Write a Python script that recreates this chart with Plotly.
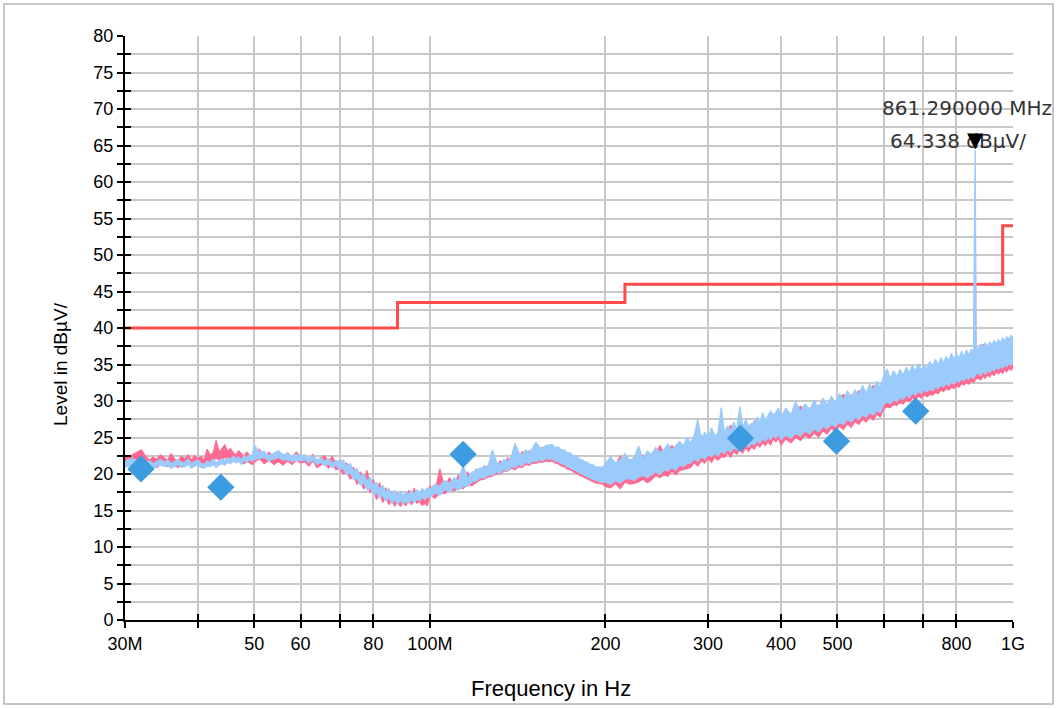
import math
import plotly.graph_objects as go

# ---------------- data ----------------
freq_mhz = [
    30.0, 30.5, 31.0, 31.5, 32.0, 32.5, 33.0, 33.5, 34.0, 34.5,
    35.0, 35.5, 36.0, 36.5, 37.0, 37.5, 38.0, 38.5, 39.0, 39.5,
    40.0, 40.5, 41.0, 41.5, 42.0, 42.5, 43.0, 43.5, 44.0, 44.5,
    45.0, 45.5, 46.0, 46.5, 47.0, 47.5, 48.0, 48.5, 49.0, 49.5,
    50, 51, 52, 53, 54, 55, 56, 57, 58, 59,
    60, 61, 62, 63, 64, 65, 66, 67, 68, 69,
    70, 71, 72, 73, 74, 75, 76, 77, 78, 79,
    80, 81, 82, 83, 84, 85, 86, 87, 88, 89,
    90, 91, 92, 93, 94, 95, 96, 97, 98, 99,
    100, 102, 104, 106, 108, 110, 112, 114, 116, 118,
    120, 122, 124, 126, 128, 130, 132, 134, 136, 138,
    140, 142, 144, 146, 148, 150, 152, 154, 156, 158,
    160, 162, 164, 166, 168, 170, 172, 174, 176, 178,
    180, 182, 184, 186, 188, 190, 192, 194, 196, 198,
    200, 204, 208, 212, 216, 220, 224, 228, 232, 236,
    240, 244, 248, 252, 256, 260, 264, 268, 272, 276,
    280, 284, 288, 292, 296, 300, 304, 308, 312, 316,
    320, 324, 328, 332, 336, 340, 344, 348, 352, 356,
    360, 364, 368, 372, 376, 380, 384, 388, 392, 396,
    400, 408, 416, 424, 432, 440, 448, 456, 464, 472,
    480, 488, 496, 504, 512, 520, 528, 536, 544, 552,
    560, 568, 576, 584, 592, 600, 608, 616, 624, 632,
    640, 648, 656, 664, 672, 680, 688, 696, 704, 712,
    720, 728, 736, 744, 752, 760, 768, 776, 784, 792,
    800, 808, 816, 824, 832, 840, 848, 856, 861.29, 864,
    872, 880, 888, 896, 904, 912, 920, 928, 936, 944,
    952, 960, 968, 976, 984, 992, 1000,
]

# trace 1 (light blue): upper / lower envelope of the noisy sweep, dBµV
blue_hi = [
    21.7, 22.0, 22.1, 21.7, 22.0, 21.5, 21.8, 21.4, 21.7, 22.0,
    21.6, 21.9, 21.4, 21.7, 22.0, 21.5, 21.6, 22.0, 21.4, 21.7,
    21.9, 21.4, 21.3, 21.7, 21.6, 22.0, 21.5, 21.8, 22.1, 21.8,
    22.2, 22.0, 22.4, 22.1, 22.3, 21.9, 22.5, 22.2, 22.6, 22.3,
    23.9, 23.0, 23.1, 22.5, 22.9, 23.2, 22.6, 22.8, 22.4, 22.7,
    22.4, 22.6, 22.1, 22.5, 21.9, 22.2, 21.7, 22.1, 21.5, 21.8,
    21.7, 21.9, 21.1, 21.4, 20.4, 20.7, 19.7, 20.0, 19.0, 19.5,
    18.4, 18.8, 17.9, 18.4, 17.5, 18.0, 17.2, 17.7, 17.0, 17.6,
    17.0, 17.5, 17.1, 17.7, 17.2, 17.8, 17.4, 18.0, 17.6, 18.1,
    17.9, 18.6, 18.3, 19.1, 18.7, 19.5, 19.0, 21.2, 19.4, 20.2,
    20.5, 20.8, 20.9, 21.2, 23.3, 21.6, 21.3, 22.0, 21.7, 22.4,
    24.2, 22.9, 22.6, 23.3, 22.8, 23.6, 24.3, 23.7, 23.4, 23.9,
    23.9, 24.0, 23.6, 23.7, 23.3, 23.3, 22.9, 22.9, 22.5, 22.5,
    22.1, 22.0, 21.7, 21.6, 21.3, 21.3, 21.0, 21.0, 20.9, 20.9,
    21.4, 22.3, 21.5, 21.9, 22.8, 21.8, 22.2, 23.8, 22.0, 23.1,
    22.7, 23.6, 22.9, 23.3, 24.1, 23.2, 23.9, 24.4, 23.8, 25.0,
    24.2, 25.3, 27.4, 24.8, 25.7, 24.9, 26.3, 25.2, 25.6, 29.1,
    25.6, 26.6, 25.8, 27.1, 26.0, 29.2, 26.3, 27.4, 26.5, 26.9,
    27.0, 27.8, 26.9, 28.4, 27.3, 27.9, 28.6, 28.0, 28.4, 29.0,
    27.8, 29.0, 28.1, 29.9, 28.5, 29.6, 28.8, 30.1, 29.0, 30.4,
    29.4, 30.6, 29.8, 31.0, 30.1, 31.4, 30.4, 31.5, 30.8, 32.1,
    31.1, 32.3, 31.4, 32.7, 31.8, 33.4, 34.4, 33.0, 34.1, 33.3,
    34.3, 33.5, 34.6, 33.8, 34.9, 34.0, 35.1, 34.2, 35.0, 34.4,
    35.4, 34.7, 35.7, 34.9, 35.9, 35.2, 36.1, 35.4, 36.5, 35.6,
    36.5, 35.8, 36.8, 36.0, 37.0, 36.2, 37.1, 36.5, 64.338, 37.5,
    37.0, 37.8, 37.2, 38.0, 37.4, 38.1, 37.6, 38.3, 37.8, 38.4,
    38.0, 38.6, 38.2, 38.8, 38.4, 39.0, 38.6,
]
blue_lo = [
    20.9, 21.2, 21.4, 21.0, 21.3, 20.9, 21.1, 20.8, 21.0, 21.3,
    21.0, 21.2, 20.8, 21.1, 21.3, 20.9, 21.0, 21.3, 20.8, 21.1,
    21.2, 20.9, 20.8, 21.1, 21.0, 21.3, 20.9, 21.2, 21.4, 21.2,
    21.6, 21.4, 21.8, 21.5, 21.7, 21.3, 21.9, 21.6, 22.0, 21.7,
    22.0, 22.1, 22.3, 21.8, 22.1, 22.3, 21.9, 22.0, 21.7, 21.9,
    21.8, 22.0, 21.5, 21.9, 21.3, 21.6, 21.1, 21.4, 20.9, 21.2,
    20.6, 20.8, 19.9, 20.2, 19.2, 19.4, 18.5, 18.8, 17.8, 18.2,
    17.1, 17.5, 16.7, 17.1, 16.3, 16.8, 16.0, 16.5, 15.9, 16.4,
    15.9, 16.3, 16.0, 16.5, 16.1, 16.6, 16.3, 16.8, 16.5, 16.9,
    16.8, 17.4, 17.1, 17.9, 17.5, 18.2, 17.8, 18.3, 18.3, 18.9,
    19.0, 19.5, 19.4, 19.9, 19.8, 20.3, 20.1, 20.6, 20.4, 21.0,
    20.9, 21.3, 21.1, 21.6, 21.4, 21.8, 21.7, 22.0, 21.8, 22.1,
    22.0, 22.1, 21.8, 21.7, 21.4, 21.3, 21.0, 20.9, 20.6, 20.5,
    20.2, 20.0, 19.8, 19.6, 19.4, 19.3, 19.2, 19.0, 18.9, 18.9,
    18.9, 18.6, 19.1, 18.8, 19.3, 19.4, 19.1, 19.6, 19.8, 19.5,
    19.9, 20.3, 19.9, 20.6, 20.4, 20.9, 20.5, 21.2, 21.0, 21.4,
    21.5, 22.1, 21.7, 22.4, 22.0, 22.6, 22.4, 22.8, 22.5, 23.1,
    22.8, 23.4, 23.0, 23.6, 23.3, 23.9, 23.5, 24.1, 23.7, 24.2,
    24.0, 24.6, 24.2, 24.9, 24.5, 25.0, 24.7, 25.3, 24.9, 25.5,
    24.7, 25.3, 24.9, 25.6, 25.2, 25.9, 25.5, 26.2, 25.8, 26.5,
    26.2, 26.8, 26.5, 27.1, 26.8, 27.5, 27.1, 27.8, 27.4, 28.1,
    27.8, 28.4, 28.1, 28.7, 28.4, 29.5, 29.9, 29.6, 30.2, 29.9,
    30.5, 30.2, 30.8, 30.5, 31.1, 30.8, 31.3, 31.0, 31.5, 31.3,
    31.6, 31.4, 31.9, 31.7, 32.2, 31.9, 32.4, 32.1, 32.6, 32.3,
    32.8, 32.6, 33.0, 32.8, 33.2, 33.0, 33.4, 33.1, 33.6, 33.7,
    33.8, 33.5, 34.0, 33.7, 34.2, 33.9, 34.4, 34.1, 34.6, 34.3,
    34.8, 34.5, 35.0, 34.7, 35.2, 34.9, 35.3,
]

# trace 2 (pink): upper / lower envelope of the noisy sweep, dBµV
pink_hi = [
    22.6, 22.4, 22.7, 23.0, 23.3, 22.5, 21.9, 22.3, 22.0, 22.6,
    22.2, 21.9, 22.8, 22.0, 21.8, 22.4, 22.1, 22.6, 21.9, 22.5,
    22.1, 22.4, 21.9, 23.4, 22.6, 22.9, 24.6, 23.0, 23.5, 24.0,
    23.1, 23.5, 22.9, 22.6, 23.2, 22.8, 22.4, 23.0, 22.6, 22.3,
    22.6, 23.4, 22.3, 23.0, 22.2, 22.7, 22.1, 22.9, 22.3, 23.0,
    22.4, 22.6, 21.9, 22.7, 21.8, 22.1, 22.5, 21.7, 22.4, 21.5,
    21.8, 21.0, 21.5, 20.3, 20.9, 19.6, 20.3, 19.0, 20.5, 18.6,
    19.2, 17.8, 18.8, 17.3, 18.1, 16.9, 17.6, 16.6, 17.4, 16.5,
    17.2, 16.5, 17.8, 16.6, 18.1, 16.9, 17.5, 16.5, 17.1, 16.4,
    18.4, 17.6, 20.7, 18.1, 19.5, 18.5, 19.9, 18.8, 20.3, 19.0,
    20.7, 19.9, 21.1, 20.4, 21.4, 20.8, 21.8, 21.2, 22.2, 21.6,
    22.8, 21.9, 23.1, 22.2, 23.2, 22.5, 23.5, 22.7, 23.7, 23.0,
    23.3, 22.8, 23.5, 22.4, 23.0, 22.0, 22.6, 21.6, 22.2, 21.2,
    21.5, 20.6, 21.2, 20.2, 20.8, 19.9, 20.5, 19.7, 20.2, 19.6,
    21.0, 21.6, 21.2, 22.4, 21.5, 22.0, 21.7, 22.1, 22.6, 22.0,
    22.3, 22.8, 23.9, 22.9, 23.2, 23.9, 23.4, 24.4, 23.8, 24.2,
    24.1, 24.6, 24.3, 25.3, 24.6, 24.8, 25.6, 24.9, 25.4, 25.1,
    25.4, 25.8, 26.7, 25.7, 26.0, 25.9, 26.8, 26.1, 26.5, 26.4,
    27.3, 26.6, 27.0, 27.6, 27.1, 27.5, 27.3, 28.2, 28.1, 27.7,
    27.6, 28.4, 27.9, 28.6, 29.3, 28.5, 29.0, 28.6, 29.4, 29.3,
    29.5, 30.1, 29.6, 30.4, 30.9, 30.3, 30.8, 30.4, 31.4, 30.9,
    31.2, 31.0, 32.2, 31.4, 31.9, 32.5, 33.1, 32.7, 33.3, 32.9,
    33.8, 33.3, 34.1, 33.5, 33.9, 33.7, 34.3, 33.9, 34.3, 34.1,
    35.3, 34.5, 35.0, 34.7, 35.2, 34.9, 35.4, 35.1, 35.9, 35.3,
    35.7, 35.5, 36.2, 35.8, 36.3, 36.0, 36.5, 36.1, 56.0, 36.6,
    36.7, 36.5, 37.8, 36.8, 37.1, 36.9, 37.3, 37.1, 37.5, 37.3,
    37.7, 37.5, 37.9, 37.7, 38.5, 37.9, 38.1,
]
pink_lo = [
    21.4, 21.1, 21.3, 21.5, 21.7, 21.2, 20.9, 21.2, 20.9, 21.3,
    21.2, 21.0, 21.4, 21.1, 20.9, 21.3, 21.1, 21.4, 20.9, 21.3,
    21.3, 21.4, 21.1, 21.8, 21.6, 21.8, 22.2, 21.9, 22.0, 22.3,
    22.0, 22.2, 21.8, 21.6, 21.9, 21.7, 21.4, 21.8, 21.5, 21.3,
    21.6, 22.1, 21.4, 21.9, 21.3, 21.7, 21.2, 21.8, 21.3, 21.9,
    21.5, 21.7, 21.1, 21.8, 20.9, 21.2, 21.5, 20.8, 21.4, 20.6,
    20.7, 20.0, 20.3, 19.3, 19.7, 18.6, 19.1, 17.9, 18.8, 17.4,
    17.9, 16.5, 17.4, 16.1, 16.9, 15.8, 16.4, 15.6, 16.2, 15.6,
    16.1, 15.7, 16.5, 15.8, 16.7, 16.0, 16.2, 15.7, 16.0, 15.7,
    17.2, 16.7, 17.4, 17.3, 17.8, 17.7, 18.1, 18.0, 18.5, 18.4,
    18.8, 19.2, 19.3, 19.6, 19.7, 20.0, 20.0, 20.4, 20.4, 20.8,
    20.6, 21.0, 20.9, 21.3, 21.2, 21.5, 21.5, 21.7, 21.6, 21.8,
    21.7, 21.8, 21.5, 21.4, 21.1, 21.0, 20.7, 20.6, 20.3, 20.1,
    19.9, 19.7, 19.5, 19.3, 19.1, 19.0, 18.8, 18.7, 18.6, 18.6,
    18.3, 18.1, 18.7, 18.0, 18.9, 18.6, 18.7, 18.9, 19.3, 18.8,
    19.2, 19.8, 19.5, 19.9, 19.7, 20.4, 19.9, 20.5, 20.6, 20.7,
    20.9, 21.6, 21.1, 21.8, 21.5, 22.1, 21.6, 22.3, 21.9, 22.4,
    22.3, 22.9, 22.3, 23.1, 22.7, 23.4, 22.9, 23.6, 23.1, 23.7,
    23.4, 24.1, 23.7, 24.3, 23.9, 24.5, 24.0, 24.8, 24.4, 24.9,
    24.0, 24.8, 24.3, 25.0, 24.6, 25.3, 24.9, 25.6, 25.1, 25.9,
    25.5, 26.3, 25.8, 26.6, 26.1, 26.9, 26.4, 27.2, 26.8, 27.5,
    27.1, 27.9, 27.4, 28.2, 27.8, 28.9, 29.2, 29.1, 29.5, 29.4,
    29.8, 29.6, 30.1, 29.9, 30.4, 30.1, 30.7, 30.4, 30.9, 30.6,
    30.9, 30.8, 31.2, 31.0, 31.5, 31.3, 31.7, 31.5, 31.9, 31.7,
    32.1, 31.9, 32.4, 32.2, 32.6, 32.3, 32.8, 32.5, 33.0, 33.1,
    33.1, 32.9, 33.4, 33.1, 33.6, 33.3, 33.8, 33.5, 34.0, 33.7,
    34.1, 33.8, 34.3, 34.0, 34.5, 34.2, 34.6,
]

limit_freq_mhz = [30, 88, 216, 960, 1000]
limit_level = [40, 43.5, 46, 54, 54]

qp_freq_mhz = [31.95, 43.8, 114.0, 340.9, 498.0, 681.0]
qp_level = [20.7, 18.2, 22.7, 24.9, 24.5, 28.6]

peak_freq_mhz = 861.29
peak_level = 64.338
peak_label_freq = "861.290000 MHz"
peak_label_level = "64.338 dBµV/"

x_tick_mhz = [30, 40, 50, 60, 70, 80, 100, 200, 300, 400, 500, 600, 700, 800, 1000]
x_tick_text = ["30M", "", "50", "60", "", "80", "100M", "200", "300", "400", "500", "", "", "800", "1G"]
y_tick_vals = [i * 2.5 for i in range(33)]
y_tick_text = [(str(int(v)) if v % 5 == 0 else "") for v in y_tick_vals]

# --------------- figure ---------------
MHZ = 1e6
FONT = "Liberation Sans, Arial, sans-serif"
xr = [math.log10(30 * MHZ), math.log10(1000 * MHZ)]
yr = [0, 80]
PINK = "#ff6a92"
BLUE = "#9bcbfb"
fx = [f * MHZ for f in freq_mhz]

fig = go.Figure()

fig.add_trace(go.Scatter(
    x=[f * MHZ for f in limit_freq_mhz], y=limit_level, mode="lines",
    line=dict(color="#ff4a4a", width=3, shape="hv"), hoverinfo="skip"))

fig.add_trace(go.Scatter(x=fx, y=pink_hi, mode="lines",
                         line=dict(color=PINK, width=1.2), hoverinfo="skip"))
fig.add_trace(go.Scatter(x=fx, y=pink_lo, mode="lines", fill="tonexty", fillcolor=PINK,
                         line=dict(color=PINK, width=1.2), hoverinfo="skip"))
fig.add_trace(go.Scatter(x=fx, y=blue_hi, mode="lines",
                         line=dict(color=BLUE, width=1.4), hoverinfo="skip"))
fig.add_trace(go.Scatter(x=fx, y=blue_lo, mode="lines", fill="tonexty", fillcolor=BLUE,
                         line=dict(color=BLUE, width=1.2), hoverinfo="skip"))

fig.add_trace(go.Scatter(
    x=[f * MHZ for f in qp_freq_mhz], y=qp_level, mode="markers",
    marker=dict(symbol="diamond", size=21, color="#3d9be0"),
    xaxis="x2", yaxis="y2", hoverinfo="skip"))

px = math.log10(peak_freq_mhz * MHZ)
annots = [
    dict(x=px, y=peak_level, text=peak_label_freq, showarrow=False, xshift=-8, yshift=42,
         font=dict(family="DejaVu Sans", size=20, color="#333333")),
    dict(x=px, y=peak_level, text=peak_label_level, showarrow=False, xshift=-17, yshift=9,
         font=dict(family="DejaVu Sans", size=20, color="#333333")),
    dict(x=px, y=peak_level, text="▼", showarrow=False, yanchor="bottom", yshift=-4,
         font=dict(family="DejaVu Sans", size=21, color="#000000")),
    dict(xref="paper", yref="paper", x=(60 - 125) / 888, y=(620 - 364) / 584,
         text="Level in dBµV/", textangle=-90, showarrow=False,
         xanchor="center", yanchor="middle", font=dict(family=FONT, size=19, color="black")),
    dict(xref="paper", yref="paper", x=(551 - 125) / 888, y=(620 - 688) / 584,
         text="Frequency in Hz", showarrow=False,
         xanchor="center", yanchor="middle", font=dict(family=FONT, size=22, color="black")),
]

common_x = dict(type="log", range=xr, tickmode="array",
                tickvals=[f * MHZ for f in x_tick_mhz], ticktext=x_tick_text)
common_y = dict(range=yr, tickmode="array", tickvals=y_tick_vals, ticktext=y_tick_text)

fig.update_layout(
    width=1057, height=708,
    margin=dict(l=125, r=44, t=36, b=88),
    paper_bgcolor="white", plot_bgcolor="white",
    showlegend=False,
    font=dict(family=FONT, color="black"),
    xaxis=dict(**common_x, showgrid=True, gridcolor="#c8c8c8", gridwidth=1.5,
               showline=True, linecolor="black", linewidth=2,
               ticks="outside", ticklen=6, tickwidth=2, tickcolor="black",
               tickfont=dict(size=18, color="black"), zeroline=False),
    yaxis=dict(**common_y, showgrid=True, gridcolor="#c8c8c8", gridwidth=1.5,
               showline=True, linecolor="black", linewidth=2,
               ticks="outside", ticklen=6, tickwidth=2, tickcolor="black",
               tickfont=dict(size=18, color="black"), zeroline=False),
    xaxis2=dict(**common_x, overlaying="x", anchor="y2", side="bottom",
                showgrid=False, showline=False, showticklabels=False, zeroline=False,
                ticks="inside", ticklen=6, tickwidth=2, tickcolor="black"),
    yaxis2=dict(**common_y, overlaying="y", anchor="x2", side="left",
                showgrid=False, showline=False, showticklabels=False, zeroline=False,
                ticks="inside", ticklen=6, tickwidth=2, tickcolor="black"),
    annotations=annots,
    shapes=[dict(type="rect", xref="paper", yref="paper",
                 x0=(4 - 125) / 888, x1=(1053 - 125) / 888,
                 y0=(620 - 704) / 584, y1=(620 - 4) / 584,
                 line=dict(color="#b4b4b4", width=1.5), fillcolor="rgba(0,0,0,0)", layer="below")],
)

fig.write_html("out.html",
               config={"displayModeBar": False},
               post_script="document.body.style.margin='0px';document.body.style.overflow='hidden';")
